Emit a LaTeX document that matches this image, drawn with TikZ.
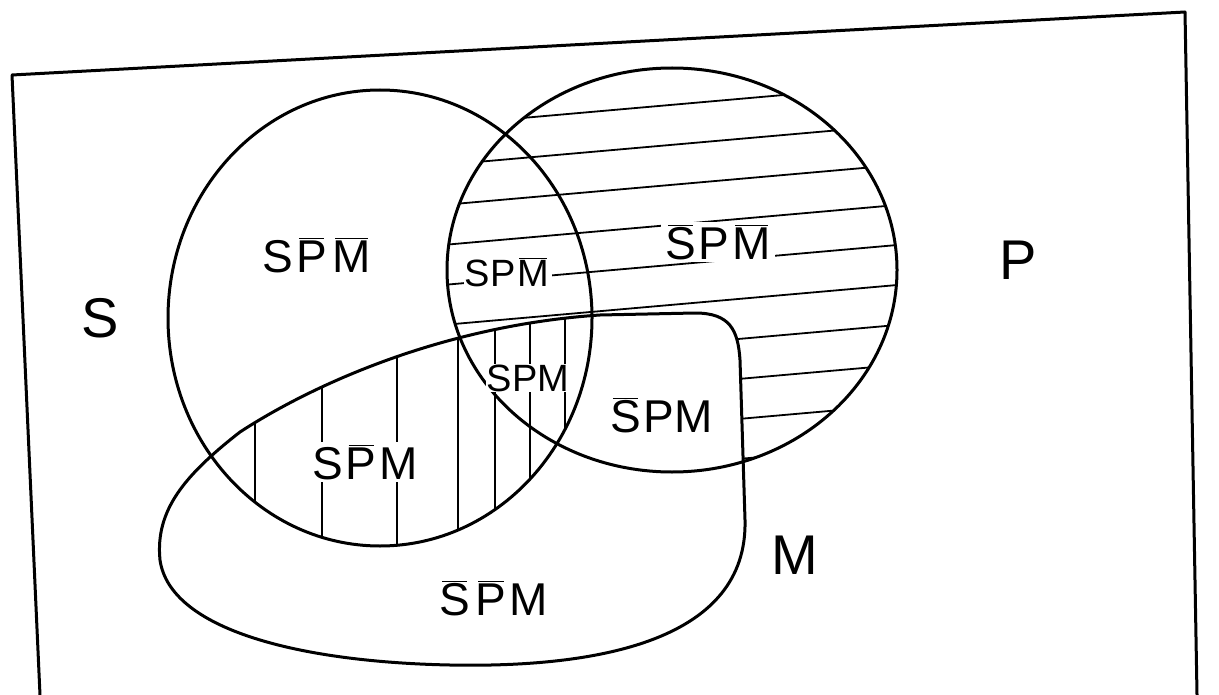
\documentclass[tikz,border=0pt]{standalone}
\usepackage{fontspec}
\setmainfont{Liberation Sans}
\newcommand\ob[1]{\ensuremath{\mkern2mu\overline{\mkern-1mu\mbox{#1}\mkern-1mu}\mkern2mu}}
\begin{document}
\begin{tikzpicture}[x=0.5pt,y=-0.5pt,
  outline/.style={line width=1.5pt, line join=round},
  hatch/.style={line width=0.9pt},
  lab/.style={font=\fontsize{23}{27}\selectfont, inner sep=1pt, fill=white},
  smlab/.style={font=\fontsize{19}{23}\selectfont, inner sep=0.5pt, fill=white},
  setlab/.style={font=\fontsize{28}{32}\selectfont, inner sep=1pt}]
\useasboundingbox (0,0) rectangle (1219,695);
\def\Spath{(380,318) ellipse [x radius=212, y radius=228]}
\def\Ppath{(672,270) ellipse [x radius=225, y radius=202]}
\def\Mpath{(240,432) .. controls (320,380) and (450,325) .. (600,315) -- (695,313) .. controls (730,313) and (738,330) .. (740,360) -- (745,520) .. controls (748,640) and (600,668) .. (450,665) .. controls (300,662) and (170,630) .. (160,560) .. controls (155,510) and (185,475) .. cycle}
% horizontal hatching: P without M
\begin{scope}
  \clip \Ppath;
  \foreach \yc in {105,145,...,465} {
    \draw[hatch] (420,\yc+22) -- (920,\yc-22);
  }
\end{scope}
\fill[white] \Mpath;
% vertical hatching: S and M
\begin{scope}
  \clip \Spath;
  \clip \Mpath;
  \foreach \xc in {255,322,397,458,495,530,565} {
    \draw[hatch] (\xc,280) -- (\xc,600);
  }
\end{scope}
% outlines
\draw[outline] \Spath;
\draw[outline] \Ppath;
\draw[outline] \Mpath;
\coordinate (fbl) at (40,695);
\coordinate (ftl) at (12,75);
\coordinate (ftr) at (1185,12);
\coordinate (fbr) at (1197,695);
\draw[outline] (fbl) -- (ftl) -- (ftr) -- (fbr);
% region labels
\node[lab] (spnmn) at (318,255) {S\ob{P}\ob{M}};
\node[smlab] (spmn) at (508,272) {SP\ob{M}};
\node[lab] (snpmn) at (718,242) {\ob{S}P\ob{M}};
\node[smlab] (spm) at (528,378) {SPM};
\node[lab] (snpm) at (660,415) {\ob{S}PM};
\node[lab] (spnm) at (365,462) {S\ob{P}M};
\node[lab] (snpnm) at (492,598) {\ob{S}\ob{P}M};
% set labels
\node[setlab] (sS) at (100,318) {S};
\node[setlab] (sP) at (1018,260) {P};
\node[setlab] (sM) at (795,555) {M};
\end{tikzpicture}
\end{document}
